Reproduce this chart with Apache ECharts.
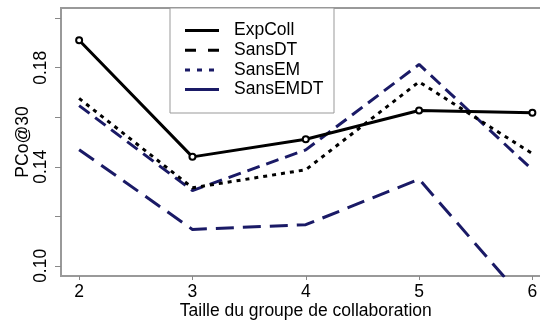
<!DOCTYPE html>
<html>
<head>
<meta charset="utf-8">
<script src="https://cdn.jsdelivr.net/npm/echarts@6/dist/echarts.min.js"></script>
<style>
  html, body { margin: 0; padding: 0; background: #fff; }
  #chart { width: 540px; height: 322px; }
</style>
</head>
<body>
<div id="chart"></div>
<script>
// Group sizes on the x axis
const groupSizes = [2, 3, 4, 5, 6];

// PCo@30 per configuration
const expColl   = [0.1911, 0.1440, 0.1511, 0.1627, 0.1618];
const sansDT    = [0.1676, 0.1315, 0.1388, 0.1743, 0.1453];
const sansEM    = [0.1647, 0.1304, 0.1468, 0.1813, 0.1388];
const sansEMDT  = [0.1469, 0.1147, 0.1166, 0.1350, 0.0825];

const seriesNames = ['ExpColl', 'SansDT', 'SansEM', 'SansEMDT'];

// Axis ticks and labels
const xTicks = [2, 3, 4, 5, 6];
const yTicks = [0.10, 0.12, 0.14, 0.16, 0.18, 0.20];
const yLabels = [0.10, 0.14, 0.18];

const NAVY = '#1a1a66';
const FONT = 'Liberation Sans, Arial, sans-serif';

const pairs = vals => groupSizes.map((x, i) => [x, vals[i]]);

const chart = echarts.init(document.getElementById('chart'), null, { renderer: 'canvas' });

// Legend entries (line style per entry)
const legendStyles = [
  { stroke: '#000', lineDash: null },
  { stroke: '#000', lineDash: [11, 12] },
  { stroke: NAVY, lineDash: [5, 7] },
  { stroke: NAVY, lineDash: null }
];
const legBox = { x: 170, y: 8, w: 164, h: 105 };
const legendGraphics = [{
  type: 'rect',
  shape: { x: legBox.x, y: legBox.y, width: legBox.w, height: legBox.h },
  style: { fill: '#fff', stroke: '#999', lineWidth: 1 },
  z: 10
}];
seriesNames.forEach((name, i) => {
  const y = 30.5 + i * 19.7;
  legendGraphics.push({
    type: 'line',
    shape: { x1: 185, y1: y, x2: 219, y2: y },
    style: Object.assign({ lineWidth: 3 }, legendStyles[i]),
    z: 11
  });
  legendGraphics.push({
    type: 'text',
    x: 234, y: y,
    style: { text: name, fill: '#000', font: '17.5px ' + FONT, verticalAlign: 'middle' },
    z: 11
  });
});

const option = {
  animation: false,
  backgroundColor: '#fff',
  grid: {
    left: 61, top: 8, width: 489.5, height: 268,
    outerBoundsMode: 'none', containLabel: false,
    show: true, borderColor: '#999', borderWidth: 2, backgroundColor: 'transparent'
  },
  xAxis: {
    type: 'value', min: 1.84, max: 6.16,
    name: 'Taille du groupe de collaboration',
    nameLocation: 'middle', nameGap: 26, nameMoveOverlap: false,
    nameTextStyle: { fontSize: 17.5, fontFamily: FONT, color: '#000' },
    axisLine: { show: false },
    splitLine: { show: false },
    axisTick: { show: true, customValues: xTicks, length: 4, lineStyle: { color: '#888', width: 1 } },
    axisLabel: { customValues: xTicks, fontSize: 17.5, fontFamily: FONT, color: '#000', margin: 7 }
  },
  yAxis: {
    type: 'value', min: 0.0959, max: 0.2041,
    name: 'PCo@30',
    nameLocation: 'middle', nameGap: 29, nameMoveOverlap: false,
    nameTextStyle: { fontSize: 17.5, fontFamily: FONT, color: '#000' },
    axisLine: { show: false },
    splitLine: { show: false },
    axisTick: { show: true, customValues: yTicks, length: 6, lineStyle: { color: '#888', width: 1 } },
    axisLabel: {
      customValues: yLabels, rotate: 90, fontSize: 17.5, fontFamily: FONT, color: '#000',
      margin: 11, formatter: v => v.toFixed(2), align: 'center', verticalAlign: 'bottom'
    }
  },
  series: [
    {
      name: seriesNames[0], type: 'line', data: pairs(expColl),
      symbol: 'circle', symbolSize: 6,
      itemStyle: { color: '#fff', borderColor: '#000', borderWidth: 2 },
      lineStyle: { color: '#000', width: 3 }, z: 5
    },
    {
      name: seriesNames[1], type: 'line', data: pairs(sansDT), symbol: 'none',
      lineStyle: { color: '#000', width: 3, type: [4, 5] }, z: 4
    },
    {
      name: seriesNames[2], type: 'line', data: pairs(sansEM), symbol: 'none',
      lineStyle: { color: NAVY, width: 3, type: [13, 7] }, z: 3
    },
    {
      name: seriesNames[3], type: 'line', data: pairs(sansEMDT), symbol: 'none',
      lineStyle: { color: NAVY, width: 3, type: [18, 9] }, z: 3
    }
  ],
  graphic: legendGraphics
};

chart.setOption(option);
</script>
</body>
</html>
